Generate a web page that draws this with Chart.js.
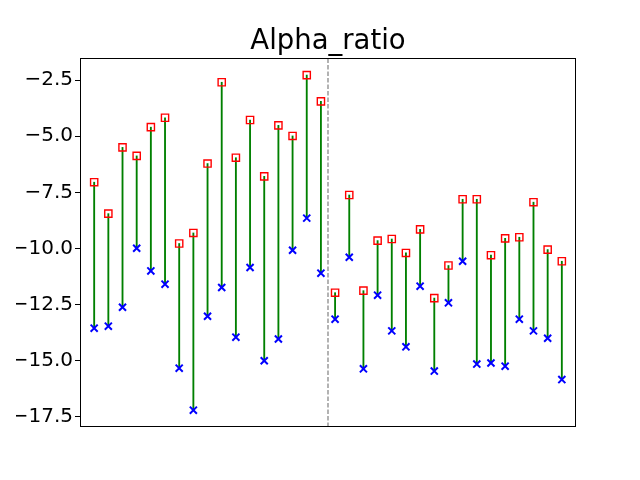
<!DOCTYPE html>
<html>
<head>
<meta charset="utf-8">
<script src="https://cdn.jsdelivr.net/npm/chart.js@4.4.1/dist/chart.umd.min.js"></script>
<style>
  html, body { margin: 0; padding: 0; background: #fff; }
  canvas { display: block; }
</style>
</head>
<body>
<canvas id="alphaChart" width="640" height="480"></canvas>
<script>
// sample positions along the x axis
const categories = [0, 1, 2, 3, 4, 5, 6, 7, 8, 9, 10, 11, 12, 13, 14, 15, 16,
                    17, 18, 19, 20, 21, 22, 23, 24, 25, 26, 27, 28, 29, 30, 31, 32, 33];

// upper end of each stem (red squares)
const upperValues = [-7.05, -8.45, -5.50, -5.88, -4.60, -4.18, -9.78, -9.31, -6.22, -2.60,
                     -5.96, -4.28, -6.79, -4.52, -4.99, -2.28, -3.45,
                     -11.97, -7.62, -11.88, -9.65, -9.58, -10.20, -9.15, -12.21, -10.76,
                     -7.81, -7.81, -10.30, -9.55, -9.50, -7.94, -10.05, -10.57];

// lower end of each stem (blue crosses)
const lowerValues = [-13.55, -13.46, -12.62, -9.99, -11.00, -11.59, -15.33, -17.20, -13.02, -11.74,
                     -13.95, -10.85, -15.00, -14.03, -10.08, -8.65, -11.10,
                     -13.15, -10.39, -15.36, -12.08, -13.67, -14.38, -11.68, -15.46, -12.42,
                     -10.57, -15.15, -15.10, -15.24, -13.15, -13.67, -14.00, -15.84];

const yTickValues = [-17.5, -15.0, -12.5, -10.0, -7.5, -5.0, -2.5];
const yLimits = [-17.95, -1.52];
const xLimits = [-1, 34];
const splitPosition = 16.5;   // dashed separator between the two groups

// draw the full box around the plot, like matplotlib spines
const frameBox = {
    id: 'frameBox',
    afterDraw(chart) {
        const a = chart.chartArea;
        const ctx = chart.ctx;
        ctx.save();
        ctx.strokeStyle = '#000';
        ctx.lineWidth = 1;
        ctx.strokeRect(a.left + 0.5, a.top + 0.5, a.right - a.left - 1, a.bottom - a.top - 1);
        ctx.restore();
    }
};

const ctx = document.getElementById('alphaChart').getContext('2d');
new Chart(ctx, {
    type: 'scatter',
    data: {
        datasets: [
            {
                label: 'upper',
                data: categories.map((c, i) => ({ x: c, y: upperValues[i] })),
                pointStyle: 'rect',
                pointRadius: 5.1,
                pointBorderWidth: 1.4,
                borderColor: '#ff0000',
                backgroundColor: 'rgba(0,0,0,0)',
                showLine: false,
                order: 0
            },
            {
                label: 'lower',
                data: categories.map((c, i) => ({ x: c, y: lowerValues[i] })),
                pointStyle: 'crossRot',
                pointRadius: 5.0,
                pointBorderWidth: 2,
                borderColor: '#0000ff',
                backgroundColor: '#0000ff',
                showLine: false,
                order: 1
            },
            {
                type: 'bar',
                label: 'stems',
                data: categories.map((c, i) => ({ x: c, y: [lowerValues[i], upperValues[i]] })),
                backgroundColor: '#008000',
                borderWidth: 0,
                barThickness: 1.2,
                order: 2
            },
            {
                type: 'line',
                label: 'split',
                data: [{ x: splitPosition, y: yLimits[0] }, { x: splitPosition, y: yLimits[1] }],
                borderColor: '#808080',
                borderWidth: 1.2,
                borderDash: [4.5, 2],
                pointRadius: 0,
                fill: false,
                order: 3
            }
        ]
    },
    options: {
        responsive: false,
        animation: false,
        devicePixelRatio: 1,
        events: [],
        layout: {
            padding: { left: 16, right: 0, top: 0, bottom: 53 }
        },
        plugins: {
            legend: { display: false },
            tooltip: { enabled: false },
            title: {
                display: true,
                text: 'Alpha_ratio',
                color: '#000',
                font: { family: 'DejaVu Sans', size: 27.5, weight: 'normal' },
                padding: { top: 25, bottom: 0 }
            }
        },
        scales: {
            x: {
                type: 'linear',
                display: false,
                offset: false,
                min: xLimits[0],
                max: xLimits[1]
            },
            y: {
                type: 'linear',
                position: 'left',
                min: yLimits[0],
                max: yLimits[1],
                afterFit: function(scale) {
                    scale.width = 64;
                },
                afterBuildTicks: function(scale) {
                    scale.ticks = yTickValues.map(v => ({ value: v }));
                },
                grid: {
                    display: true,
                    drawOnChartArea: false,
                    drawTicks: true,
                    tickLength: 5,
                    color: '#000',
                    lineWidth: 1
                },
                border: { display: false },
                ticks: {
                    padding: 2,
                    color: '#000',
                    font: { family: 'DejaVu Sans', size: 20 },
                    callback: function(value) {
                        return (value < 0 ? '\u2212' : '') + Math.abs(value).toFixed(1);
                    }
                }
            },
            // empty right-hand axis that only reserves the right margin
            yRight: {
                type: 'linear',
                position: 'right',
                display: true,
                grid: { display: false },
                border: { display: false },
                ticks: { display: false },
                afterFit: function(scale) {
                    scale.width = 64;
                }
            }
        }
    },
    plugins: [frameBox]
});
</script>
</body>
</html>
